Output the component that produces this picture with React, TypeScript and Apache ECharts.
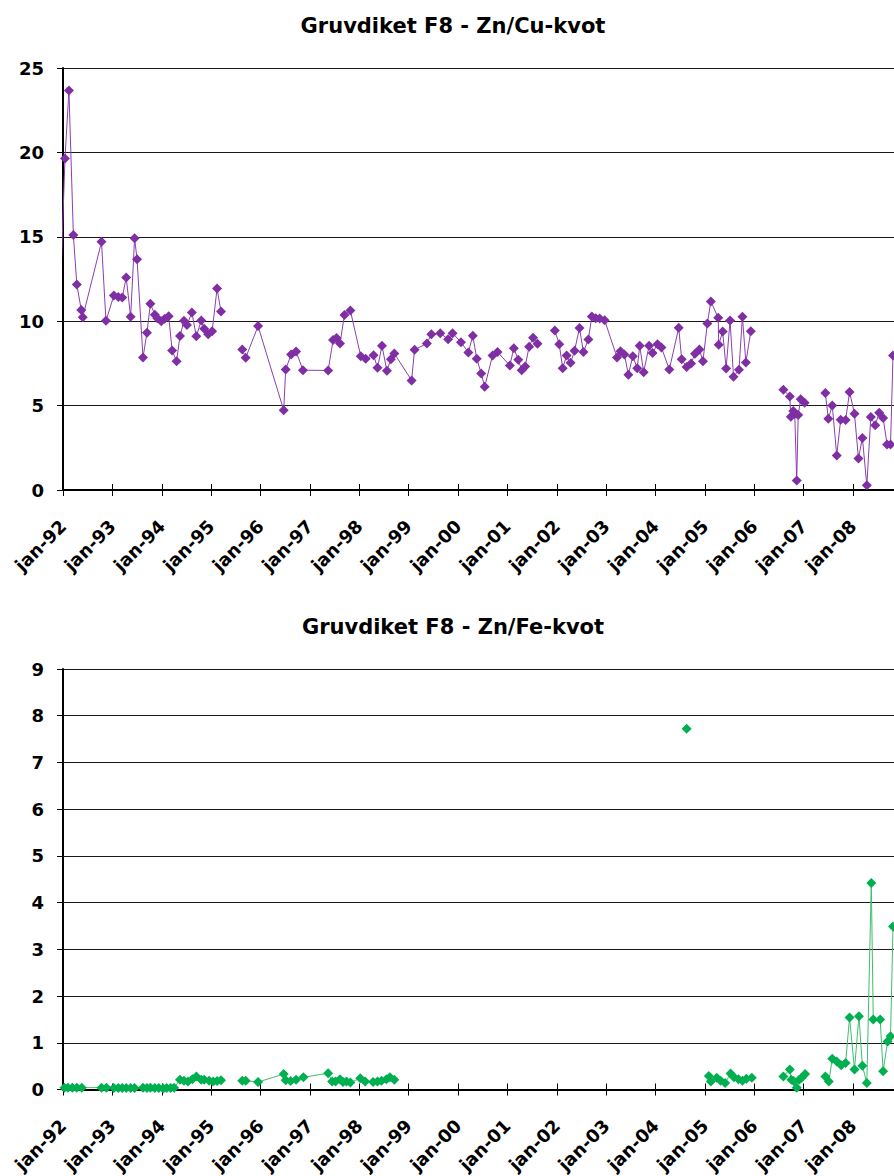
import React, { useEffect, useRef } from "react";
import * as echarts from "echarts";

const cuTitle = "Gruvdiket F8 - Zn/Cu-kvot";
const feTitle = "Gruvdiket F8 - Zn/Fe-kvot";

// sample dates as decimal years (jan-92 = 1992.0)
const cuT = [
  1991.96, 1992.04, 1992.12, 1992.21, 1992.28, 1992.37, 1992.4, 1992.78, 1992.87,
  1993.03, 1993.12, 1993.2, 1993.28, 1993.37, 1993.45, 1993.5, 1993.62, 1993.7, 1993.77,
  1993.86, 1993.91, 1993.99, 1994.06, 1994.14, 1994.21, 1994.3, 1994.37, 1994.45, 1994.51,
  1994.61, 1994.7, 1994.8, 1994.86, 1994.94, 1995.02, 1995.12, 1995.2, 1995.4,
  1995.63, 1995.7, 1995.95, 1996.47, 1996.51, 1996.62, 1996.72, 1996.86, 1997.37, 1997.47,
  1997.54, 1997.61, 1997.7, 1997.82, 1998.03, 1998.13, 1998.29, 1998.37, 1998.46, 1998.56,
  1998.64, 1998.71, 1999.06, 1999.12, 1999.37, 1999.46, 1999.64, 1999.8, 1999.89, 2000.06,
  2000.21, 2000.3, 2000.38, 2000.47, 2000.54, 2000.7, 2000.8, 2001.05, 2001.13, 2001.22,
  2001.29, 2001.36, 2001.44, 2001.52, 2001.61, 2001.8,
  2001.96, 2002.05, 2002.12, 2002.2, 2002.28, 2002.36, 2002.46, 2002.54, 2002.64, 2002.71,
  2002.79, 2002.87, 2002.97, 2003.22, 2003.29, 2003.37, 2003.45, 2003.54, 2003.63, 2003.68,
  2003.76, 2003.87, 2003.94, 2004.04, 2004.12, 2004.28, 2004.47, 2004.53, 2004.63, 2004.72,
  2004.8, 2004.89, 2004.96, 2005.05, 2005.12, 2005.27, 2005.28, 2005.36, 2005.43, 2005.51,
  2005.58, 2005.69, 2005.76, 2005.83, 2005.93, 2006.2,
  2006.59, 2006.72, 2006.74, 2006.79, 2006.82, 2006.86, 2006.89, 2006.94, 2007.02, 2007.2,
  2007.44, 2007.5, 2007.58, 2007.67, 2007.75, 2007.85, 2007.93, 2008.03, 2008.11, 2008.19,
  2008.28, 2008.36, 2008.45, 2008.53, 2008.61, 2008.69, 2008.76, 2008.81,
];
const cuV = [
  12.8, 19.64, 23.67, 15.11, 12.17, 10.67, 10.24, 14.7, 10.02,
  11.52, 11.44, 11.4, 12.59, 10.26, 14.91, 13.67, 7.85, 9.31, 11.03,
  10.38, 10.18, 10.0, 10.14, 10.3, 8.27, 7.63, 9.13, 10.02, 9.77,
  10.51, 9.11, 10.04, 9.55, 9.22, 9.4, 11.93, 10.57, null,
  8.33, 7.83, 9.71, 4.73, 7.14, 8.03, 8.21, 7.1, 7.08, 8.88,
  9.0, 8.68, 10.36, 10.63, 7.93, 7.77, 7.99, 7.24, 8.54, 7.06,
  7.75, 8.09, 6.49, 8.31, 8.68, 9.23, 9.29, 8.93, 9.29, 8.76,
  8.15, 9.14, 7.77, 6.9, 6.12, 7.97, 8.17, 7.38, 8.4, 7.71,
  7.1, 7.32, 8.49, 9.02, 8.66, null,
  9.45, 8.64, 7.22, 7.97, 7.54, 8.25, 9.59, 8.17, 8.92, 10.28,
  10.18, 10.16, 10.06, 7.85, 8.22, 8.03, 6.83, 7.93, 7.22, 8.54,
  6.98, 8.54, 8.11, 8.64, 8.44, 7.14, 9.61, 7.75, 7.28, 7.5,
  8.07, 8.33, 7.63, 9.86, 11.17, 10.2, 8.6, 9.39, 7.2, 10.04,
  6.71, 7.12, 10.26, 7.56, 9.41, null,
  5.94, 5.54, 4.34, 4.68, 4.5, 0.57, 4.44, 5.37, 5.17, null,
  5.74, 4.22, 5.01, 2.05, 4.16, 4.14, 5.8, 4.52, 1.86, 3.08,
  0.28, 4.32, 3.83, 4.58, 4.26, 2.7, 2.7, 7.97,
];

const feT = [
  1992.03, 1992.1, 1992.19, 1992.28, 1992.38, 1992.78, 1992.88,
  1993.03, 1993.12, 1993.2, 1993.28, 1993.37, 1993.45, 1993.62, 1993.7, 1993.77, 1993.86,
  1993.94, 1994.03, 1994.1, 1994.18, 1994.25, 1994.37, 1994.45, 1994.53, 1994.62, 1994.7,
  1994.8, 1994.86, 1994.96, 1995.04, 1995.12, 1995.2, 1995.4,
  1995.63, 1995.7, 1995.95, 1996.47, 1996.51, 1996.61, 1996.72, 1996.87, 1997.37, 1997.45,
  1997.52, 1997.61, 1997.67, 1997.74, 1997.82, 1998.02, 1998.12, 1998.28, 1998.37, 1998.45,
  1998.55, 1998.62, 1998.71, 2000.0,
  2004.63, 2004.9,
  2005.08, 2005.12, 2005.24, 2005.32, 2005.41, 2005.52, 2005.59, 2005.68, 2005.76, 2005.84,
  2005.95, 2006.2,
  2006.59, 2006.72, 2006.75, 2006.8, 2006.86, 2006.91, 2006.96, 2007.03, 2007.2,
  2007.44, 2007.51, 2007.58, 2007.67, 2007.76, 2007.85, 2007.93, 2008.03, 2008.12, 2008.19,
  2008.28, 2008.37, 2008.41, 2008.55, 2008.61, 2008.7, 2008.76, 2008.81,
];
const feV = [
  0.04, 0.04, 0.04, 0.04, 0.04, 0.04, 0.04,
  0.03, 0.03, 0.03, 0.03, 0.03, 0.03, 0.04, 0.03, 0.04, 0.03,
  0.03, 0.02, 0.03, 0.03, 0.04, 0.21, 0.19, 0.17, 0.22, 0.28,
  0.21, 0.21, 0.19, 0.17, 0.18, 0.2, null,
  0.19, 0.19, 0.16, 0.33, 0.2, 0.18, 0.21, 0.26, 0.35, 0.17,
  0.17, 0.22, 0.16, 0.17, 0.15, 0.24, 0.17, 0.16, 0.17, 0.19,
  0.22, 0.26, 0.21, null,
  7.72, null,
  0.29, 0.17, 0.25, 0.19, 0.14, 0.34, 0.26, 0.22, 0.19, 0.23,
  0.25, null,
  0.28, 0.43, 0.21, 0.18, 0.04, 0.21, 0.25, 0.33, null,
  0.28, 0.17, 0.66, 0.6, 0.52, 0.57, 1.54, 0.43, 1.57, 0.51,
  0.14, 4.42, 1.5, 1.5, 0.39, 1.03, 1.14, 3.49,
];

const X_MIN = 1992;
const X_MAX = 2008.83;
const FONT = "DejaVu Sans";

function yearLabel(v: number) {
  return Number.isInteger(v) ? "jan-" + String(v).slice(2) : "";
}

export default function App() {
  const ref = useRef<HTMLDivElement>(null);
  useEffect(() => {
    if (!ref.current) return;
    const chart = echarts.init(ref.current, null, { renderer: "svg" });
    const grids = [
      { left: 63, top: 68, width: 894 - 63, height: 422 },
      { left: 63, top: 669, width: 894 - 63, height: 421 },
    ];
    const mainX = (gi: number) => ({
      type: "value",
      gridIndex: gi,
      min: X_MIN,
      max: X_MAX,
      interval: 1,
      axisLine: { show: true, onZero: false, lineStyle: { color: "#000", width: 2 } },
      axisTick: { show: true, inside: false, length: 6, lineStyle: { color: "#000", width: 1 } },
      axisLabel: {
        show: true,
        rotate: 45,
        margin: 33,
        formatter: yearLabel,
        color: "#000",
        fontFamily: FONT,
        fontWeight: "bold",
        fontSize: 18,
        showMaxLabel: false,
      },
      splitLine: { show: false },
    });
    const innerX = (gi: number) => ({
      type: "value",
      gridIndex: gi,
      min: X_MIN,
      max: X_MAX,
      interval: 1,
      position: "bottom",
      axisLine: { show: false, onZero: false },
      axisTick: { show: true, inside: true, length: 6, lineStyle: { color: "#000", width: 1 } },
      axisLabel: { show: false },
      splitLine: { show: false },
    });
    const yAx = (gi: number, max: number, interval: number) => ({
      type: "value",
      gridIndex: gi,
      min: 0,
      max,
      interval,
      axisLine: { show: true, lineStyle: { color: "#000", width: 2 } },
      axisTick: { show: true, inside: false, length: 6, lineStyle: { color: "#000", width: 1 } },
      axisLabel: {
        margin: 19,
        color: "#000",
        fontFamily: FONT,
        fontWeight: "bold",
        fontSize: 18,
      },
      splitLine: { show: true, lineStyle: { color: "#1a1a1a", width: 1 } },
    });
    const cuData = cuT.map((t, i) => [t, cuV[i] === null ? "-" : cuV[i]]);
    const feData = feT.map((t, i) => [t, feV[i] === null ? "-" : feV[i]]);
    const titleStyle = { fontFamily: FONT, fontWeight: "bold", fontSize: 21, color: "#000" };
    chart.setOption({
      animation: false,
      backgroundColor: "#fff",
      title: [
        { text: cuTitle, left: 448, top: 10, textAlign: "center", textStyle: titleStyle },
        { text: feTitle, left: 448, top: 611, textAlign: "center", textStyle: titleStyle },
      ],
      grid: grids,
      xAxis: [mainX(0), innerX(0), mainX(1), innerX(1)],
      yAxis: [yAx(0, 25, 5), yAx(1, 9, 1)],
      series: [
        {
          type: "line",
          xAxisIndex: 0,
          yAxisIndex: 0,
          data: cuData,
          symbol: "diamond",
          symbolSize: 10,
          showSymbol: true,
          showAllSymbol: true,
          connectNulls: false,
          clip: true,
          lineStyle: { color: "#8a3fb0", width: 1 },
          itemStyle: { color: "#7f2fa3" },
        },
        {
          type: "line",
          xAxisIndex: 2,
          yAxisIndex: 1,
          data: feData,
          symbol: "diamond",
          symbolSize: 10,
          showSymbol: true,
          showAllSymbol: true,
          connectNulls: false,
          clip: true,
          lineStyle: { color: "#3cbf6e", width: 1 },
          itemStyle: { color: "#00b050" },
        },
      ],
    });
    return () => chart.dispose();
  }, []);
  return (
    <div
      ref={ref}
      style={{ position: "absolute", left: 0, top: 0, width: 894, height: 1176, background: "#fff" }}
    />
  );
}
